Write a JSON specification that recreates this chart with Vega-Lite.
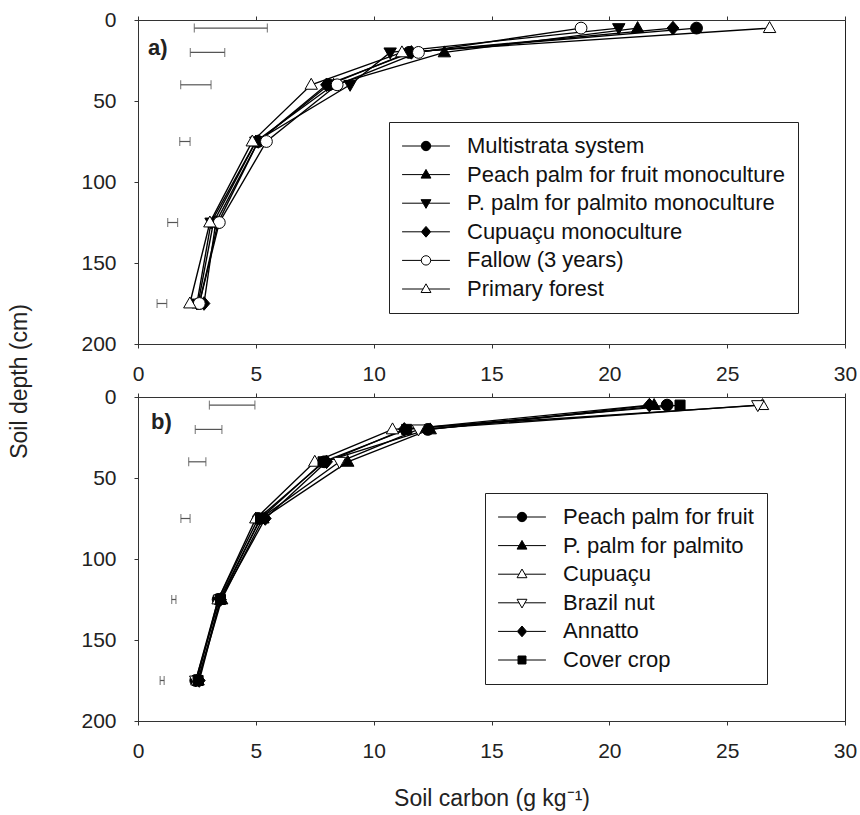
{
  "$schema": "https://vega.github.io/schema/vega-lite/v6.json",
  "background": "white",
  "padding": {"left": 7, "top": 8, "right": 0, "bottom": 0},
  "bounds": "flush",
  "spacing": 53,
  "config": {
    "font": "Liberation Sans",
    "view": {"stroke": "#222", "strokeWidth": 1},
    "axis": {"grid": false, "domainColor": "#333", "tickColor": "#333", "tickSize": 4, "labelFontSize": 21, "labelColor": "#222", "titleFontSize": 23, "titleFontWeight": "normal", "titleColor": "#222", "labelFont": "Liberation Sans", "titleFont": "Liberation Sans", "labelFlush": false},
    "legend": {"title": null, "orient": "none", "strokeColor": "#222", "fillColor": "white", "padding": 13, "cornerRadius": 0, "labelFontSize": 22, "labelColor": "#111", "labelFont": "Liberation Sans", "symbolSize": 88, "symbolOffset": 13, "labelOffset": 30, "rowPadding": 6.6, "symbolStrokeWidth": 1, "labelLimit": 0}
  },
  "datasets": {
    "a": [
      {"series": "Multistrata system", "depth": 5, "carbon": 23.7},
      {"series": "Multistrata system", "depth": 20, "carbon": 11.5},
      {"series": "Multistrata system", "depth": 40, "carbon": 8.1},
      {"series": "Multistrata system", "depth": 75, "carbon": 5.1},
      {"series": "Multistrata system", "depth": 125, "carbon": 3.4},
      {"series": "Multistrata system", "depth": 175, "carbon": 2.6},
      {"series": "Peach palm for fruit monoculture", "depth": 5, "carbon": 21.2},
      {"series": "Peach palm for fruit monoculture", "depth": 20, "carbon": 13.0},
      {"series": "Peach palm for fruit monoculture", "depth": 40, "carbon": 8.3},
      {"series": "Peach palm for fruit monoculture", "depth": 75, "carbon": 5.0},
      {"series": "Peach palm for fruit monoculture", "depth": 125, "carbon": 3.2},
      {"series": "Peach palm for fruit monoculture", "depth": 175, "carbon": 2.55},
      {"series": "P. palm for palmito monoculture", "depth": 5, "carbon": 20.4},
      {"series": "P. palm for palmito monoculture", "depth": 20, "carbon": 10.7},
      {"series": "P. palm for palmito monoculture", "depth": 40, "carbon": 9.0},
      {"series": "P. palm for palmito monoculture", "depth": 75, "carbon": 5.0},
      {"series": "P. palm for palmito monoculture", "depth": 125, "carbon": 3.1},
      {"series": "P. palm for palmito monoculture", "depth": 175, "carbon": 2.5},
      {"series": "Cupuaçu monoculture", "depth": 5, "carbon": 22.7},
      {"series": "Cupuaçu monoculture", "depth": 20, "carbon": 11.6},
      {"series": "Cupuaçu monoculture", "depth": 40, "carbon": 8.0},
      {"series": "Cupuaçu monoculture", "depth": 75, "carbon": 5.1},
      {"series": "Cupuaçu monoculture", "depth": 125, "carbon": 3.3},
      {"series": "Cupuaçu monoculture", "depth": 175, "carbon": 2.8},
      {"series": "Fallow (3 years)", "depth": 5, "carbon": 18.8},
      {"series": "Fallow (3 years)", "depth": 20, "carbon": 11.9},
      {"series": "Fallow (3 years)", "depth": 40, "carbon": 8.45},
      {"series": "Fallow (3 years)", "depth": 75, "carbon": 5.45},
      {"series": "Fallow (3 years)", "depth": 125, "carbon": 3.45},
      {"series": "Fallow (3 years)", "depth": 175, "carbon": 2.6},
      {"series": "Primary forest", "depth": 5, "carbon": 26.8},
      {"series": "Primary forest", "depth": 20, "carbon": 11.2},
      {"series": "Primary forest", "depth": 40, "carbon": 7.35},
      {"series": "Primary forest", "depth": 75, "carbon": 4.85},
      {"series": "Primary forest", "depth": 125, "carbon": 3.05},
      {"series": "Primary forest", "depth": 175, "carbon": 2.2}
    ],
    "b": [
      {"series": "Peach palm for fruit", "depth": 5, "carbon": 22.45},
      {"series": "Peach palm for fruit", "depth": 20, "carbon": 12.3},
      {"series": "Peach palm for fruit", "depth": 40, "carbon": 7.9},
      {"series": "Peach palm for fruit", "depth": 75, "carbon": 5.1},
      {"series": "Peach palm for fruit", "depth": 125, "carbon": 3.4},
      {"series": "Peach palm for fruit", "depth": 175, "carbon": 2.45},
      {"series": "P. palm for palmito", "depth": 5, "carbon": 21.9},
      {"series": "P. palm for palmito", "depth": 20, "carbon": 12.4},
      {"series": "P. palm for palmito", "depth": 40, "carbon": 8.9},
      {"series": "P. palm for palmito", "depth": 75, "carbon": 5.3},
      {"series": "P. palm for palmito", "depth": 125, "carbon": 3.55},
      {"series": "P. palm for palmito", "depth": 175, "carbon": 2.55},
      {"series": "Cupuaçu", "depth": 5, "carbon": 26.5},
      {"series": "Cupuaçu", "depth": 20, "carbon": 10.8},
      {"series": "Cupuaçu", "depth": 40, "carbon": 7.5},
      {"series": "Cupuaçu", "depth": 75, "carbon": 5.0},
      {"series": "Cupuaçu", "depth": 125, "carbon": 3.4},
      {"series": "Cupuaçu", "depth": 175, "carbon": 2.5},
      {"series": "Brazil nut", "depth": 5, "carbon": 26.3},
      {"series": "Brazil nut", "depth": 20, "carbon": 11.9},
      {"series": "Brazil nut", "depth": 40, "carbon": 8.55},
      {"series": "Brazil nut", "depth": 75, "carbon": 5.2},
      {"series": "Brazil nut", "depth": 125, "carbon": 3.45},
      {"series": "Brazil nut", "depth": 175, "carbon": 2.45},
      {"series": "Annatto", "depth": 5, "carbon": 21.7},
      {"series": "Annatto", "depth": 20, "carbon": 11.3},
      {"series": "Annatto", "depth": 40, "carbon": 8.0},
      {"series": "Annatto", "depth": 75, "carbon": 5.4},
      {"series": "Annatto", "depth": 125, "carbon": 3.5},
      {"series": "Annatto", "depth": 175, "carbon": 2.6},
      {"series": "Cover crop", "depth": 5, "carbon": 23.0},
      {"series": "Cover crop", "depth": 20, "carbon": 11.4},
      {"series": "Cover crop", "depth": 40, "carbon": 7.85},
      {"series": "Cover crop", "depth": 75, "carbon": 5.2},
      {"series": "Cover crop", "depth": 125, "carbon": 3.5},
      {"series": "Cover crop", "depth": 175, "carbon": 2.55}
    ],
    "ea": [
      {"depth": 5, "lo": 2.39, "hi": 5.49},
      {"depth": 20, "lo": 2.22, "hi": 3.68},
      {"depth": 40, "lo": 1.81, "hi": 3.1},
      {"depth": 75, "lo": 1.77, "hi": 2.21},
      {"depth": 125, "lo": 1.26, "hi": 1.68},
      {"depth": 175, "lo": 0.81, "hi": 1.22}
    ],
    "eb": [
      {"depth": 5, "lo": 3.03, "hi": 4.96},
      {"depth": 20, "lo": 2.43, "hi": 3.56},
      {"depth": 40, "lo": 2.15, "hi": 2.88},
      {"depth": 75, "lo": 1.82, "hi": 2.21},
      {"depth": 125, "lo": 1.43, "hi": 1.61},
      {"depth": 175, "lo": 0.94, "hi": 1.11}
    ],
    "la": [{"label": "a)"}],
    "lb": [{"label": "b)"}]
  },
  "resolve": {"scale": {"shape": "independent", "fill": "independent", "x": "independent", "y": "independent"}, "legend": {"shape": "independent", "fill": "independent"}},
  "vconcat": [
    {
      "width": 707,
      "height": 324,
      "resolve": {"scale": {"x": "independent"}, "axis": {"x": "independent"}},
      "layer": [
        {
          "layer": [
            {
              "data": {"name": "ea"},
              "mark": {"type": "rule", "color": "#555", "strokeWidth": 1.2},
              "encoding": {
                "x": {"field": "lo", "type": "quantitative", "scale": {"domain": [0, 30], "nice": false}, "axis": {"orient": "bottom", "values": [0, 5, 10, 15, 20, 25, 30], "labelPadding": 15, "title": null}},
                "x2": {"field": "hi"},
                "y": {"field": "depth", "type": "quantitative", "scale": {"domain": [0, 200], "reverse": true, "nice": false}, "axis": {"values": [0, 50, 100, 150, 200], "labelPadding": 18, "title": "Soil depth  (cm)", "titleX": -112, "titleY": 361, "titleAngle": 270, "titleAlign": "center", "titleBaseline": "alphabetic"}}
              }
            },
            {
              "data": {"name": "ea"},
              "mark": {"type": "tick", "orient": "vertical", "color": "#555", "size": 9, "thickness": 1.2},
              "encoding": {"x": {"field": "lo", "type": "quantitative"}, "y": {"field": "depth", "type": "quantitative"}}
            },
            {
              "data": {"name": "ea"},
              "mark": {"type": "tick", "orient": "vertical", "color": "#555", "size": 9, "thickness": 1.2},
              "encoding": {"x": {"field": "hi", "type": "quantitative"}, "y": {"field": "depth", "type": "quantitative"}}
            },
            {
              "data": {"name": "a"},
              "mark": {"type": "line", "color": "black", "strokeWidth": 1.4},
              "encoding": {
                "x": {"field": "carbon", "type": "quantitative"},
                "y": {"field": "depth", "type": "quantitative"},
                "detail": {"field": "series"},
                "order": {"field": "depth", "type": "quantitative"}
              }
            },
            {
              "data": {"name": "a"},
              "mark": {"type": "point", "size": 140, "stroke": "black", "strokeWidth": 1, "opacity": 1, "fillOpacity": 1},
              "encoding": {
                "x": {"field": "carbon", "type": "quantitative"},
                "y": {"field": "depth", "type": "quantitative"},
                "shape": {"field": "series", "type": "nominal",
                  "scale": {"domain": ["Primary forest", "Fallow (3 years)", "Cupuaçu monoculture", "P. palm for palmito monoculture", "Peach palm for fruit monoculture", "Multistrata system"],
                    "range": ["M0,-1.1L1.05,0.75L-1.05,0.75Z", "M1,0A1,1,0,1,1,-1,0A1,1,0,1,1,1,0Z", "M0,-1.15L1,0L0,1.15L-1,0Z", "M0,1.1L1.05,-0.75L-1.05,-0.75Z", "M0,-1.1L1.05,0.75L-1.05,0.75Z", "M1,0A1,1,0,1,1,-1,0A1,1,0,1,1,1,0Z"]},
                  "legend": null},
                "fill": {"field": "series", "type": "nominal",
                  "scale": {"domain": ["Multistrata system", "Peach palm for fruit monoculture", "P. palm for palmito monoculture", "Cupuaçu monoculture", "Fallow (3 years)", "Primary forest"],
                    "range": ["black", "black", "black", "black", "white", "white"]},
                  "legend": {"legendX": 251, "legendY": 102,
                    "symbolType": {"expr": "['M-5.1,0H-1M1,0H5.1M1,0A1,1,0,1,1,-1,0A1,1,0,1,1,1,0Z','M-5.1,0H-0.62M0.62,0H5.1M0,-1.1L1.05,0.75L-1.05,0.75Z','M-5.1,0H-0.62M0.62,0H5.1M0,1.1L1.05,-0.75L-1.05,-0.75Z','M-5.1,0H-1M1,0H5.1M0,-1.15L1,0L0,1.15L-1,0Z','M-5.1,0H-1M1,0H5.1M1,0A1,1,0,1,1,-1,0A1,1,0,1,1,1,0Z','M-5.1,0H-0.62M0.62,0H5.1M0,-1.1L1.05,0.75L-1.05,0.75Z'][indexof(['Multistrata system','Peach palm for fruit monoculture','P. palm for palmito monoculture','Cupuaçu monoculture','Fallow (3 years)','Primary forest'], datum.value)]"},
                    "encode": {"symbols": {"shape": {"value": {"expr": "['M-5.1,0H-1M1,0H5.1M1,0A1,1,0,1,1,-1,0A1,1,0,1,1,1,0Z','M-5.1,0H-0.62M0.62,0H5.1M0,-1.1L1.05,0.75L-1.05,0.75Z','M-5.1,0H-0.62M0.62,0H5.1M0,1.1L1.05,-0.75L-1.05,-0.75Z','M-5.1,0H-1M1,0H5.1M0,-1.15L1,0L0,1.15L-1,0Z','M-5.1,0H-1M1,0H5.1M1,0A1,1,0,1,1,-1,0A1,1,0,1,1,1,0Z','M-5.1,0H-0.62M0.62,0H5.1M0,-1.1L1.05,0.75L-1.05,0.75Z'][indexof(['Multistrata system','Peach palm for fruit monoculture','P. palm for palmito monoculture','Cupuaçu monoculture','Fallow (3 years)','Primary forest'], datum.value)]"}}, "stroke": {"value": "black"}, "strokeWidth": {"value": 1}}}}}
              }
            }
          ]
        },
        {
          "data": {"name": "la"},
          "mark": {"type": "text", "fontWeight": "bold", "fontSize": 22, "align": "left", "baseline": "middle", "color": "#222"},
          "encoding": {
            "x": {"datum": 0.42, "type": "quantitative", "scale": {"domain": [0, 30], "nice": false}, "axis": {"orient": "top", "labels": false, "title": null, "values": [0, 5, 10, 15, 20, 25, 30]}},
            "y": {"datum": 17, "type": "quantitative"},
            "text": {"field": "label"}
          }
        }
      ]
    },
    {
      "width": 707,
      "height": 324,
      "resolve": {"scale": {"x": "independent"}, "axis": {"x": "independent"}},
      "layer": [
        {
          "layer": [
            {
              "data": {"name": "eb"},
              "mark": {"type": "rule", "color": "#555", "strokeWidth": 1.2},
              "encoding": {
                "x": {"field": "lo", "type": "quantitative", "scale": {"domain": [0, 30], "nice": false}, "axis": {"orient": "bottom", "values": [0, 5, 10, 15, 20, 25, 30], "labelPadding": 15, "title": "Soil carbon  (g kg⁻¹)", "titlePadding": 26}},
                "x2": {"field": "hi"},
                "y": {"field": "depth", "type": "quantitative", "scale": {"domain": [0, 200], "reverse": true, "nice": false}, "axis": {"values": [0, 50, 100, 150, 200], "labelPadding": 18, "title": null}}
              }
            },
            {
              "data": {"name": "eb"},
              "mark": {"type": "tick", "orient": "vertical", "color": "#555", "size": 9, "thickness": 1.2},
              "encoding": {"x": {"field": "lo", "type": "quantitative"}, "y": {"field": "depth", "type": "quantitative"}}
            },
            {
              "data": {"name": "eb"},
              "mark": {"type": "tick", "orient": "vertical", "color": "#555", "size": 9, "thickness": 1.2},
              "encoding": {"x": {"field": "hi", "type": "quantitative"}, "y": {"field": "depth", "type": "quantitative"}}
            },
            {
              "data": {"name": "b"},
              "mark": {"type": "line", "color": "black", "strokeWidth": 1.4},
              "encoding": {
                "x": {"field": "carbon", "type": "quantitative"},
                "y": {"field": "depth", "type": "quantitative"},
                "detail": {"field": "series"},
                "order": {"field": "depth", "type": "quantitative"}
              }
            },
            {
              "data": {"name": "b"},
              "mark": {"type": "point", "size": 140, "stroke": "black", "strokeWidth": 1, "opacity": 1, "fillOpacity": 1},
              "encoding": {
                "x": {"field": "carbon", "type": "quantitative"},
                "y": {"field": "depth", "type": "quantitative"},
                "shape": {"field": "series", "type": "nominal",
                  "scale": {"domain": ["Cover crop", "Annatto", "Brazil nut", "Cupuaçu", "P. palm for palmito", "Peach palm for fruit"],
                    "range": ["M-0.85,-0.85H0.85V0.85H-0.85Z", "M0,-1.15L1,0L0,1.15L-1,0Z", "M0,1.1L1.05,-0.75L-1.05,-0.75Z", "M0,-1.1L1.05,0.75L-1.05,0.75Z", "M0,-1.1L1.05,0.75L-1.05,0.75Z", "M1,0A1,1,0,1,1,-1,0A1,1,0,1,1,1,0Z"]},
                  "legend": null},
                "fill": {"field": "series", "type": "nominal",
                  "scale": {"domain": ["Peach palm for fruit", "P. palm for palmito", "Cupuaçu", "Brazil nut", "Annatto", "Cover crop"],
                    "range": ["black", "black", "white", "white", "black", "black"]},
                  "legend": {"legendX": 347, "legendY": 96,
                    "symbolType": {"expr": "['M-5.1,0H-1M1,0H5.1M1,0A1,1,0,1,1,-1,0A1,1,0,1,1,1,0Z','M-5.1,0H-0.62M0.62,0H5.1M0,-1.1L1.05,0.75L-1.05,0.75Z','M-5.1,0H-0.62M0.62,0H5.1M0,-1.1L1.05,0.75L-1.05,0.75Z','M-5.1,0H-0.62M0.62,0H5.1M0,1.1L1.05,-0.75L-1.05,-0.75Z','M-5.1,0H-1M1,0H5.1M0,-1.15L1,0L0,1.15L-1,0Z','M-5.1,0H-0.85M0.85,0H5.1M-0.85,-0.85H0.85V0.85H-0.85Z'][indexof(['Peach palm for fruit','P. palm for palmito','Cupuaçu','Brazil nut','Annatto','Cover crop'], datum.value)]"},
                    "encode": {"symbols": {"shape": {"value": {"expr": "['M-5.1,0H-1M1,0H5.1M1,0A1,1,0,1,1,-1,0A1,1,0,1,1,1,0Z','M-5.1,0H-0.62M0.62,0H5.1M0,-1.1L1.05,0.75L-1.05,0.75Z','M-5.1,0H-0.62M0.62,0H5.1M0,-1.1L1.05,0.75L-1.05,0.75Z','M-5.1,0H-0.62M0.62,0H5.1M0,1.1L1.05,-0.75L-1.05,-0.75Z','M-5.1,0H-1M1,0H5.1M0,-1.15L1,0L0,1.15L-1,0Z','M-5.1,0H-0.85M0.85,0H5.1M-0.85,-0.85H0.85V0.85H-0.85Z'][indexof(['Peach palm for fruit','P. palm for palmito','Cupuaçu','Brazil nut','Annatto','Cover crop'], datum.value)]"}}, "stroke": {"value": "black"}, "strokeWidth": {"value": 1}}}}}
              }
            }
          ]
        },
        {
          "data": {"name": "lb"},
          "mark": {"type": "text", "fontWeight": "bold", "fontSize": 22, "align": "left", "baseline": "middle", "color": "#222"},
          "encoding": {
            "x": {"datum": 0.55, "type": "quantitative", "scale": {"domain": [0, 30], "nice": false}, "axis": {"orient": "top", "labels": false, "title": null, "values": [0, 5, 10, 15, 20, 25, 30]}},
            "y": {"datum": 15.5, "type": "quantitative"},
            "text": {"field": "label"}
          }
        }
      ]
    }
  ]
}
